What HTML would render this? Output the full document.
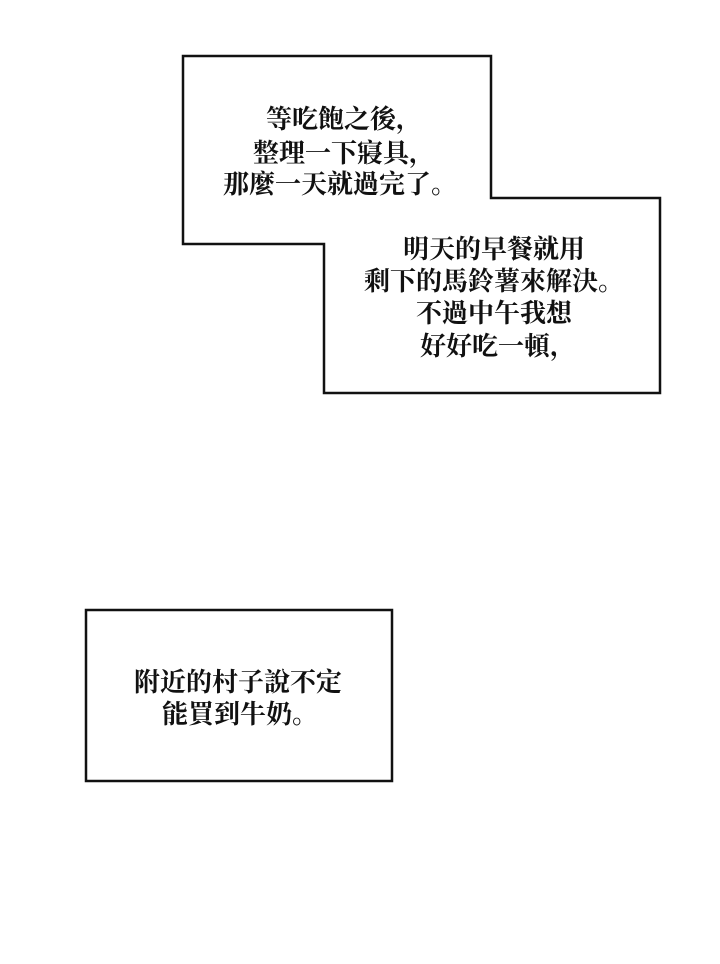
<!DOCTYPE html>
<html><head><meta charset="utf-8"><style>
html,body{margin:0;padding:0;background:#fff;}
svg{display:block;}
text{font-family:"Noto Serif CJK SC","Noto Sans CJK TC",serif;font-size:26px;font-weight:bold;fill:#111;text-anchor:middle;}
</style></head><body>
<svg width="720" height="964" viewBox="0 0 720 964" xmlns="http://www.w3.org/2000/svg">
<rect width="720" height="964" fill="#fff"/>
<polygon points="183,56 491,56 491,198 660,198 660,393 324,393 324,244 183,244" fill="#fff" stroke="#111" stroke-width="2.5"/>
<text x="344" y="128">等吃飽之後，</text>
<text x="344" y="162">整理一下寢具，</text>
<text x="340" y="193">那麼一天就過完了。</text>
<text x="494" y="258">明天的早餐就用</text>
<text x="494" y="290">剩下的馬鈴薯來解決。</text>
<text x="494" y="322">不過中午我想</text>
<text x="498" y="355">好好吃一頓，</text>
<rect x="86" y="610" width="306" height="171" fill="#fff" stroke="#111" stroke-width="2.5"/>
<text x="238" y="691">附近的村子說不定</text>
<text x="240" y="723">能買到牛奶。</text>
</svg>
</body></html>
